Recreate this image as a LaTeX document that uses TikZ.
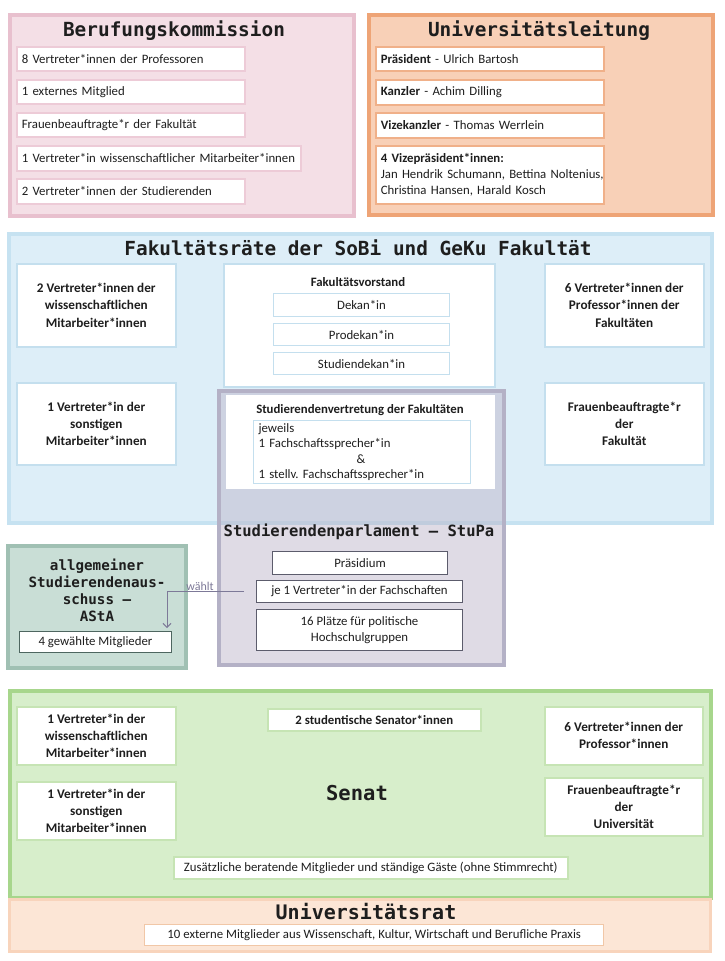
\documentclass[tikz,border=0pt]{standalone}
\usepackage{fontspec}
\setmainfont{Carlito}
\newfontfamily\monofont{DejaVu Sans Mono}
\usetikzlibrary{arrows.meta}
\definecolor{txt}{HTML}{1E1E1E}
\definecolor{pinkfill}{HTML}{F4DFE6}
\definecolor{pinkline}{HTML}{E8C0CE}
\definecolor{pinkin}{HTML}{EDCBD7}
\definecolor{orfill}{HTML}{F8D0B7}
\definecolor{orline}{HTML}{EEA476}
\definecolor{orin}{HTML}{F0B089}
\definecolor{bluefill}{HTML}{DDEEF8}
\definecolor{blueline}{HTML}{C6E2F1}
\definecolor{bluein}{HTML}{C4DFEE}
\definecolor{stupac}{HTML}{BBB4C8}
\definecolor{stupaline}{HTML}{B4B1C6}
\definecolor{darkin}{HTML}{5C5C6C}
\definecolor{astafill}{HTML}{C9DED6}
\definecolor{astaline}{HTML}{A0C0B3}
\definecolor{astain}{HTML}{4E6660}
\definecolor{greenfill}{HTML}{D7EECB}
\definecolor{greenline}{HTML}{A7D68C}
\definecolor{greenin}{HTML}{C6E4B4}
\definecolor{ratfill}{HTML}{FCE6D6}
\definecolor{ratline}{HTML}{F8D4BC}
\definecolor{ratin}{HTML}{F1C7A7}
\definecolor{arrowc}{HTML}{7D7998}
\begin{document}
\begin{tikzpicture}[x=1pt,y=-1pt,
  every node/.style={text=txt, font=\fontsize{12.8}{16}\selectfont},
  frame/.style={anchor=north west, inner sep=0pt, line width=3.5pt},
  lbox/.style={draw, fill=white, anchor=north west, align=left, inner xsep=5pt, inner ysep=0pt, line width=1.6pt},
  cbox/.style={draw, fill=white, anchor=north west, align=center, inner sep=0pt, line width=1.6pt},
  cbold/.style={cbox, font=\fontsize{13.2}{17.3}\selectfont\bfseries},
  bigtitle/.style={font=\monofont\bfseries\fontsize{19.4}{22}\selectfont},
  midtitle/.style={font=\monofont\bfseries\fontsize{15.5}{17}\selectfont},
  wahl/.style={draw=arrowc, line width=1pt, -{Straight Barb[length=4pt,width=8pt]}},
]
\useasboundingbox (0,0) rectangle (724,961);
\fill[white] (0,0) rectangle (724,961);

% Berufungskommission
\node[frame, fill=pinkfill, draw=pinkline, minimum width=344pt, minimum height=201pt] (bk) at (8,13) {};
\node[bigtitle] (bkt) at (174,31) {Berufungskommission};
\node[lbox, draw=pinkin, text width=218pt, minimum height=24pt] (bk1) at (16,46) {8 Vertreter*innen der Professoren};
\node[lbox, draw=pinkin, text width=218pt, minimum height=24pt] (bk2) at (16,79) {1 externes Mitglied};
\node[lbox, draw=pinkin, text width=218pt, minimum height=24pt] (bk3) at (16,112) {Frauenbeauftragte*r der Fakultät};
\node[lbox, draw=pinkin, text width=274pt, minimum height=25pt] (bk4) at (16,145) {1 Vertreter*in wissenschaftlicher Mitarbeiter*innen};
\node[lbox, draw=pinkin, text width=218pt, minimum height=25pt] (bk5) at (16,178) {2 Vertreter*innen der Studierenden};

% Universitaetsleitung
\node[frame, fill=orfill, draw=orline, minimum width=344pt, minimum height=200pt] (ul) at (367,13) {};
\node[bigtitle] (ult) at (539,31) {Universitätsleitung};
\node[lbox, draw=orin, text width=218pt, minimum height=24pt] (ul1) at (375,46) {\textbf{Präsident} - Ulrich Bartosh};
\node[lbox, draw=orin, text width=218pt, minimum height=25pt] (ul2) at (375,79) {\textbf{Kanzler} - Achim Dilling};
\node[lbox, draw=orin, text width=218pt, minimum height=25pt] (ul3) at (375,112) {\textbf{Vizekanzler} - Thomas Werrlein};
\node[lbox, draw=orin, text width=218pt, minimum height=58pt] (ul4) at (375,145) {\mbox{\textbf{4 Vizepräsident*innen:}}\\\mbox{Jan Hendrik Schumann, Bettina Noltenius,}\\\mbox{Christina Hansen, Harald Kosch}};

% Fakultaetsraete
\node[frame, fill=bluefill, draw=blueline, minimum width=703pt, minimum height=289pt] (fr) at (7,232) {};
\node[bigtitle] (frt) at (358,248) {Fakultätsräte der SoBi und GeKu Fakultät};
\node[cbold, draw=bluein, minimum width=159pt, minimum height=83pt] (fr1) at (16,263) {2 Vertreter*innen der\\wissenschaftlichen\\Mitarbeiter*innen};
\node[cbold, draw=bluein, minimum width=159pt, minimum height=82pt] (fr2) at (16,382) {1 Vertreter*in der\\sonstigen\\Mitarbeiter*innen};
\node[cbold, draw=bluein, minimum width=159pt, minimum height=83pt] (fr3) at (544,263) {6 Vertreter*innen der\\Professor*innen der\\Fakultäten};
\node[cbold, draw=bluein, minimum width=159pt, minimum height=82pt] (fr4) at (544,382) {Frauenbeauftragte*r\\der\\Fakultät};
\node[cbox, draw=bluein, minimum width=271pt, minimum height=123pt] (fv) at (223,263) {};
\node[font=\fontsize{12.8}{16}\selectfont\bfseries] (fvt) at (358,282) {Fakultätsvorstand};
\node[cbox, draw=bluein, line width=1pt, minimum width=176pt, minimum height=23pt] (fv1) at (273,293) {Dekan*in};
\node[cbox, draw=bluein, line width=1pt, minimum width=176pt, minimum height=22pt] (fv2) at (273,323) {Prodekan*in};
\node[cbox, draw=bluein, line width=1pt, minimum width=176pt, minimum height=22pt] (fv3) at (273,352) {Studiendekan*in};

% Studierendenparlament (translucent)
\node[frame, fill=stupac, fill opacity=0.47, draw=stupaline, draw opacity=1, minimum width=285pt, minimum height=274pt] (sp) at (217,389) {};
\node[cbox, draw=white, line width=0.5pt, minimum width=268pt, minimum height=93pt] (sv) at (226,395) {};
\node[font=\fontsize{12.8}{16}\selectfont\bfseries] (svt) at (360,410) {Studierendenvertretung der Fakultäten};
\node[lbox, draw=bluein, line width=1.2pt, text width=207pt, minimum height=63pt, font=\fontsize{12.8}{15.6}\selectfont] (sv1) at (253,420) {jeweils\\1 Fachschaftssprecher*in\\\hspace*{98pt}\&\\1 stellv.\ Fachschaftssprecher*in};
\node[midtitle] (spt) at (359,532) {Studierendenparlament – StuPa};
\node[cbox, draw=darkin, line width=1pt, minimum width=175pt, minimum height=23pt] (sp1) at (272,551) {Präsidium};
\node[cbox, draw=darkin, line width=1pt, minimum width=206pt, minimum height=22pt] (sp2) at (256,580) {je 1 Vertreter*in der Fachschaften};
\node[cbox, draw=darkin, line width=1pt, minimum width=206pt, minimum height=41pt] (sp3) at (256,609) {16 Plätze für politische\\Hochschulgruppen};

% AStA
\node[frame, fill=astafill, draw=astaline, minimum width=178pt, minimum height=122pt] (as) at (6,544) {};
\node[font=\monofont\bfseries\fontsize{14.2}{17}\selectfont, align=center, anchor=north] (ast) at (97,555) {allgemeiner\\Studierendenaus-\\schuss –\\AStA};
\node[cbox, draw=astain, line width=1pt, minimum width=152pt, minimum height=21pt] (as1) at (19,631) {4 gewählte Mitglieder};

% arrow
\coordinate (astop) at (167,628);
\draw[wahl] ([xshift=-12pt]sp2.west) -- (astop |- sp2.west) -- (astop);
\node[text=arrowc, font=\fontsize{12}{14}\selectfont, anchor=south] (wl) at (200,594) {wählt};

% Senat
\node[frame, fill=greenfill, draw=greenline, minimum width=701pt, minimum height=207pt] (se) at (8,689) {};
\node[font=\monofont\bfseries\fontsize{20.5}{24}\selectfont] (set) at (357,793) {Senat};
\node[cbold, draw=greenin, minimum width=159pt, minimum height=58pt, font=\fontsize{13.2}{17}\selectfont\bfseries] (se1) at (16,706) {1 Vertreter*in der\\wissenschaftlichen\\Mitarbeiter*innen};
\node[cbold, draw=greenin, minimum width=159pt, minimum height=58pt, font=\fontsize{13.2}{17}\selectfont\bfseries] (se2) at (16,781) {1 Vertreter*in der\\sonstigen\\Mitarbeiter*innen};
\node[cbold, draw=greenin, minimum width=213pt, minimum height=22pt, font=\fontsize{12.8}{16}\selectfont\bfseries] (se3) at (267,708) {2 studentische Senator*innen};
\node[cbold, draw=greenin, minimum width=158pt, minimum height=58pt, font=\fontsize{13.2}{17}\selectfont\bfseries] (se4) at (544,706) {6 Vertreter*innen der\\Professor*innen};
\node[cbold, draw=greenin, minimum width=158pt, minimum height=58pt, font=\fontsize{13.2}{17}\selectfont\bfseries] (se5) at (544,777) {Frauenbeauftragte*r\\der\\Universität};
\node[cbox, draw=greenin, minimum width=394pt, minimum height=22pt] (se6) at (173,856) {Zusätzliche beratende Mitglieder und ständige Gäste (ohne Stimmrecht)};

% Universitaetsrat
\node[frame, fill=ratfill, draw=ratline, line width=3pt, minimum width=701pt, minimum height=52pt] (ur) at (8,898) {};
\node[font=\monofont\bfseries\fontsize{20}{24}\selectfont] (urt) at (366,912) {Universitätsrat};
\node[cbox, draw=ratin, line width=1.4pt, minimum width=459pt, minimum height=21pt] (ur1) at (144,924) {10 externe Mitglieder aus Wissenschaft, Kultur, Wirtschaft und Berufliche Praxis};
\end{tikzpicture}
\end{document}
